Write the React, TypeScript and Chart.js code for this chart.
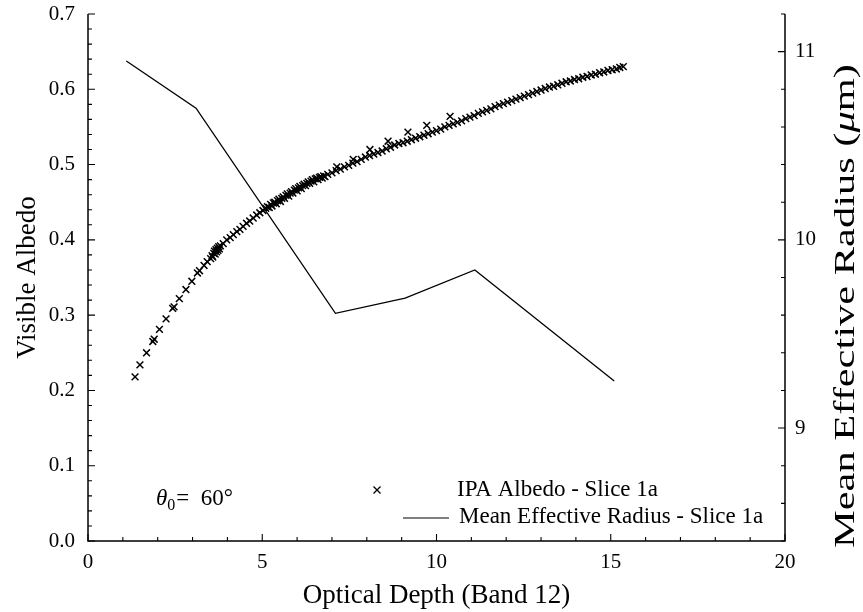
import { useEffect, useRef } from 'react';
import { Chart, registerables } from 'chart.js';

Chart.register(...registerables);

// Axis tick labels
const depthTicks = [0, 5, 10, 15, 20];
const albedoTicks = [0, 0.1, 0.2, 0.3, 0.4, 0.5, 0.6, 0.7];
const radiusTicks = [9, 10, 11];

// IPA albedo samples (optical depth, visible albedo)
const albedoDepth = [
  1.35, 1.49, 1.68, 1.86, 1.9, 2.05, 2.24, 2.43, 2.47, 2.62, 2.81, 2.98, 3.14, 3.2, 3.33, 3.42,
  3.52, 3.56, 3.58, 3.61, 3.63, 3.65, 3.67, 3.69, 3.71, 3.73, 3.75, 3.77, 3.8,
  3.88, 3.98, 4.08, 4.17, 4.27, 4.36, 4.45, 4.55, 4.64, 4.74, 4.84, 4.93, 5.02, 5.1,
  5.15, 5.2, 5.24, 5.28, 5.32, 5.36, 5.4, 5.44, 5.48, 5.52, 5.56, 5.6, 5.64, 5.68, 5.72, 5.76,
  5.8, 5.84, 5.88, 5.92, 5.96, 6.0, 6.04, 6.08, 6.12, 6.16, 6.2, 6.24, 6.28, 6.32, 6.36, 6.4,
  6.44, 6.48, 6.52, 6.56, 6.6, 6.64, 6.68, 6.72, 6.76, 6.8,
  6.88, 7.0, 7.12, 7.24, 7.36, 7.48, 7.6, 7.72, 7.84, 7.96, 8.08, 8.2, 8.32, 8.44, 8.56, 8.68,
  8.8, 8.92, 9.04, 9.16, 9.28, 9.4, 9.52, 9.64, 9.76, 9.88, 10.0, 10.12, 10.24, 10.36, 10.48,
  10.6, 10.72, 10.84, 10.96, 11.08, 11.2, 11.32, 11.44, 11.56, 11.68, 11.8, 11.92, 12.04, 12.16,
  12.28, 12.4, 12.52, 12.64, 12.76, 12.88, 13.0, 13.12, 13.24, 13.36, 13.48, 13.6, 13.72, 13.84,
  13.96, 14.08, 14.2, 14.32, 14.44, 14.56, 14.68, 14.8, 14.92, 15.04, 15.16, 15.26, 15.36,
  7.14, 7.61, 8.09, 8.61, 9.18, 9.72, 10.39,
];
const albedoValue = [
  0.218, 0.234, 0.25, 0.265, 0.268, 0.281, 0.295, 0.309, 0.311, 0.322, 0.334, 0.345, 0.356, 0.359, 0.366, 0.371,
  0.375, 0.379, 0.377, 0.382, 0.385, 0.381, 0.387, 0.384, 0.389, 0.386, 0.391, 0.388, 0.392,
  0.395, 0.4, 0.403, 0.407, 0.411, 0.414, 0.418, 0.422, 0.425, 0.429, 0.433, 0.436, 0.439, 0.442,
  0.444, 0.443, 0.447, 0.445, 0.449, 0.45, 0.448, 0.452, 0.454, 0.451, 0.455, 0.457, 0.455, 0.459, 0.461, 0.458,
  0.462, 0.464, 0.462, 0.466, 0.468, 0.465, 0.469, 0.471, 0.468, 0.472, 0.474, 0.472, 0.475, 0.477, 0.475, 0.478,
  0.48, 0.477, 0.481, 0.482, 0.48, 0.483, 0.484, 0.482, 0.485, 0.484,
  0.487, 0.489, 0.492, 0.494, 0.497, 0.499, 0.502, 0.504, 0.507, 0.51, 0.512, 0.514, 0.516, 0.518, 0.521, 0.523,
  0.526, 0.528, 0.529, 0.531, 0.533, 0.535, 0.537, 0.539, 0.541, 0.543, 0.545, 0.547, 0.55, 0.552, 0.554,
  0.556, 0.558, 0.561, 0.563, 0.565, 0.568, 0.57, 0.572, 0.574, 0.577, 0.579, 0.581, 0.583, 0.585,
  0.587, 0.589, 0.591, 0.593, 0.595, 0.597, 0.599, 0.601, 0.603, 0.604, 0.606, 0.608, 0.61, 0.611,
  0.613, 0.614, 0.616, 0.617, 0.619, 0.62, 0.622, 0.623, 0.625, 0.626, 0.627, 0.629, 0.63,
  0.497, 0.507, 0.52, 0.531, 0.543, 0.552, 0.564,
];

// Mean effective radius (µm) per optical-depth bin
const radiusDepth = [1.1, 3.1, 7.1, 9.1, 11.1, 15.1];
const radiusValue = [10.95, 10.7, 9.61, 9.69, 9.84, 9.25];

const SERIF = '"Liberation Serif", "DejaVu Serif", serif';

function crossMark(ctx: CanvasRenderingContext2D, x: number, y: number, r: number) {
  ctx.beginPath();
  ctx.moveTo(x - r, y - r);
  ctx.lineTo(x + r, y + r);
  ctx.moveTo(x - r, y + r);
  ctx.lineTo(x + r, y - r);
  ctx.stroke();
}

// Mixed-style text run, stretched along its baseline to a given length and centred at 0
function stretchedText(ctx: CanvasRenderingContext2D, runs: [string, string][], span: number) {
  let natural = 0;
  for (const [text, font] of runs) {
    ctx.font = font;
    natural += ctx.measureText(text).width;
  }
  ctx.save();
  ctx.scale(span / natural, 1);
  let pos = -natural / 2;
  ctx.textAlign = 'left';
  for (const [text, font] of runs) {
    ctx.font = font;
    ctx.fillText(text, pos, 0);
    pos += ctx.measureText(text).width;
  }
  ctx.restore();
}

// Frame with inward major/minor ticks, axis titles, legend and annotation
const decorations = {
  id: 'decorations',
  afterDatasetsDraw(chart: any) {
    const { ctx, chartArea, scales } = chart;
    const { left, right, top, bottom } = chartArea;
    const x = scales.x;
    const y = scales.y;
    const y2 = scales.y2;
    ctx.save();
    ctx.strokeStyle = '#000';
    ctx.fillStyle = '#000';
    ctx.lineWidth = 1.5;
    ctx.beginPath();
    ctx.moveTo(left, top);
    ctx.lineTo(left, bottom);
    ctx.lineTo(right, bottom);
    ctx.lineTo(right, top);
    ctx.stroke();

    ctx.lineWidth = 1.1;
    ctx.beginPath();
    for (let i = 0; i <= 20; i++) {
      const px = x.getPixelForValue(i);
      const len = i % 5 === 0 ? 7 : 4;
      ctx.moveTo(px, bottom);
      ctx.lineTo(px, bottom - len);
    }
    for (let i = 0; i <= 35; i++) {
      const py = y.getPixelForValue(i * 0.02);
      const len = i % 5 === 0 ? 7 : 4;
      ctx.moveTo(left, py);
      ctx.lineTo(left + len, py);
    }
    for (let i = 0; i <= 14; i++) {
      const v = 8.4 + i * 0.2;
      const py = y2.getPixelForValue(v);
      const major = Math.abs(v - Math.round(v)) < 1e-6;
      const len = major ? 7 : 4;
      ctx.moveTo(right, py);
      ctx.lineTo(right - len, py);
    }
    ctx.stroke();

    // axis titles
    ctx.textBaseline = 'middle';
    ctx.font = `27px ${SERIF}`;
    ctx.textAlign = 'center';
    ctx.fillText('Optical Depth (Band 12)', (left + right) / 2, 596);

    ctx.save();
    ctx.translate(28, (top + bottom) / 2);
    ctx.rotate(-Math.PI / 2);
    ctx.fillText('Visible Albedo', 0, 0);
    ctx.restore();

    ctx.save();
    ctx.translate(846, 306);
    ctx.rotate(-Math.PI / 2);
    stretchedText(
      ctx,
      [
        ['Mean Effective Radius (', `29px ${SERIF}`],
        ['\u03bc', `italic 29px ${SERIF}`],
        ['m)', `29px ${SERIF}`],
      ],
      484,
    );
    ctx.restore();

    // solar zenith annotation
    ctx.textAlign = 'left';
    ctx.textBaseline = 'alphabetic';
    ctx.font = `italic 23px ${SERIF}`;
    ctx.fillText('\u03b8', 156, 505);
    let tx = 156 + ctx.measureText('\u03b8').width;
    ctx.font = `16px ${SERIF}`;
    ctx.fillText('0', tx, 510);
    tx += ctx.measureText('0').width + 1;
    ctx.font = `23px ${SERIF}`;
    ctx.fillText('=  60\u00b0', tx, 505);

    // legend
    ctx.lineWidth = 1.3;
    crossMark(ctx, 377, 490, 3.5);
    ctx.lineWidth = 1.2;
    ctx.beginPath();
    ctx.moveTo(403, 518);
    ctx.lineTo(449, 518);
    ctx.stroke();
    ctx.textBaseline = 'middle';
    ctx.font = `23px ${SERIF}`;
    ctx.fillText('IPA Albedo - Slice 1a', 457, 490);
    ctx.fillText('Mean Effective Radius - Slice 1a', 459, 517);
    ctx.restore();
  },
};

export default function App() {
  const canvasRef = useRef<HTMLCanvasElement | null>(null);

  useEffect(() => {
    const canvas = canvasRef.current;
    if (!canvas) return;
    const tickFont = { family: SERIF, size: 21 };
    const noPad = (s: any) => {
      s.paddingTop = 0;
      s.paddingBottom = 0;
      s.paddingLeft = 0;
      s.paddingRight = 0;
    };
    const chart = new Chart(canvas, {
      type: 'scatter',
      data: {
        datasets: [
          {
            label: 'IPA Albedo - Slice 1a',
            data: albedoDepth.map((d, i) => ({ x: d, y: albedoValue[i] })),
            yAxisID: 'y',
            pointStyle: 'crossRot',
            pointRadius: 4.8,
            pointBorderWidth: 1.5,
            borderColor: '#000',
            backgroundColor: '#000',
            showLine: false,
          },
          {
            label: 'Mean Effective Radius - Slice 1a',
            data: radiusDepth.map((d, i) => ({ x: d, y: radiusValue[i] })),
            yAxisID: 'y2',
            showLine: true,
            borderColor: '#000',
            borderWidth: 1.3,
            pointRadius: 0,
            tension: 0,
            fill: false,
          },
        ],
      },
      options: {
        responsive: false,
        animation: false,
        events: [],
        layout: { padding: { top: 14, left: 0, right: 0, bottom: 0 } },
        plugins: { legend: { display: false }, tooltip: { enabled: false } },
        scales: {
          x: {
            type: 'linear',
            position: 'bottom',
            min: 0,
            max: 20,
            grid: { display: false, drawTicks: false },
            border: { display: false },
            afterBuildTicks: (s: any) => {
              s.ticks = depthTicks.map((v) => ({ value: v }));
            },
            ticks: { color: '#000', font: tickFont, padding: 9, maxRotation: 0 },
            afterFit: (s: any) => {
              s.height = 612 - 541;
              noPad(s);
            },
          },
          y: {
            type: 'linear',
            position: 'left',
            min: 0,
            max: 0.7,
            grid: { display: false, drawTicks: false },
            border: { display: false },
            afterBuildTicks: (s: any) => {
              s.ticks = albedoTicks.map((v) => ({ value: v }));
            },
            ticks: { color: '#000', font: tickFont, padding: 13, callback: (v: any) => Number(v).toFixed(1) },
            afterFit: (s: any) => {
              s.width = 88;
              noPad(s);
            },
          },
          y2: {
            type: 'linear',
            position: 'right',
            min: 8.4,
            max: 11.2,
            grid: { display: false, drawTicks: false },
            border: { display: false },
            afterBuildTicks: (s: any) => {
              s.ticks = radiusTicks.map((v) => ({ value: v }));
            },
            ticks: { color: '#000', font: tickFont, padding: 10, callback: (v: any) => String(v) },
            afterFit: (s: any) => {
              s.width = 863 - 785;
              noPad(s);
            },
          },
        },
      },
      plugins: [decorations],
    });
    return () => chart.destroy();
  }, []);

  return (
    <div style={{ position: 'fixed', left: 0, top: 0, width: 863, height: 612, background: '#fff' }}>
      <canvas ref={canvasRef} width={863} height={612} style={{ display: 'block', width: 863, height: 612 }} />
    </div>
  );
}
